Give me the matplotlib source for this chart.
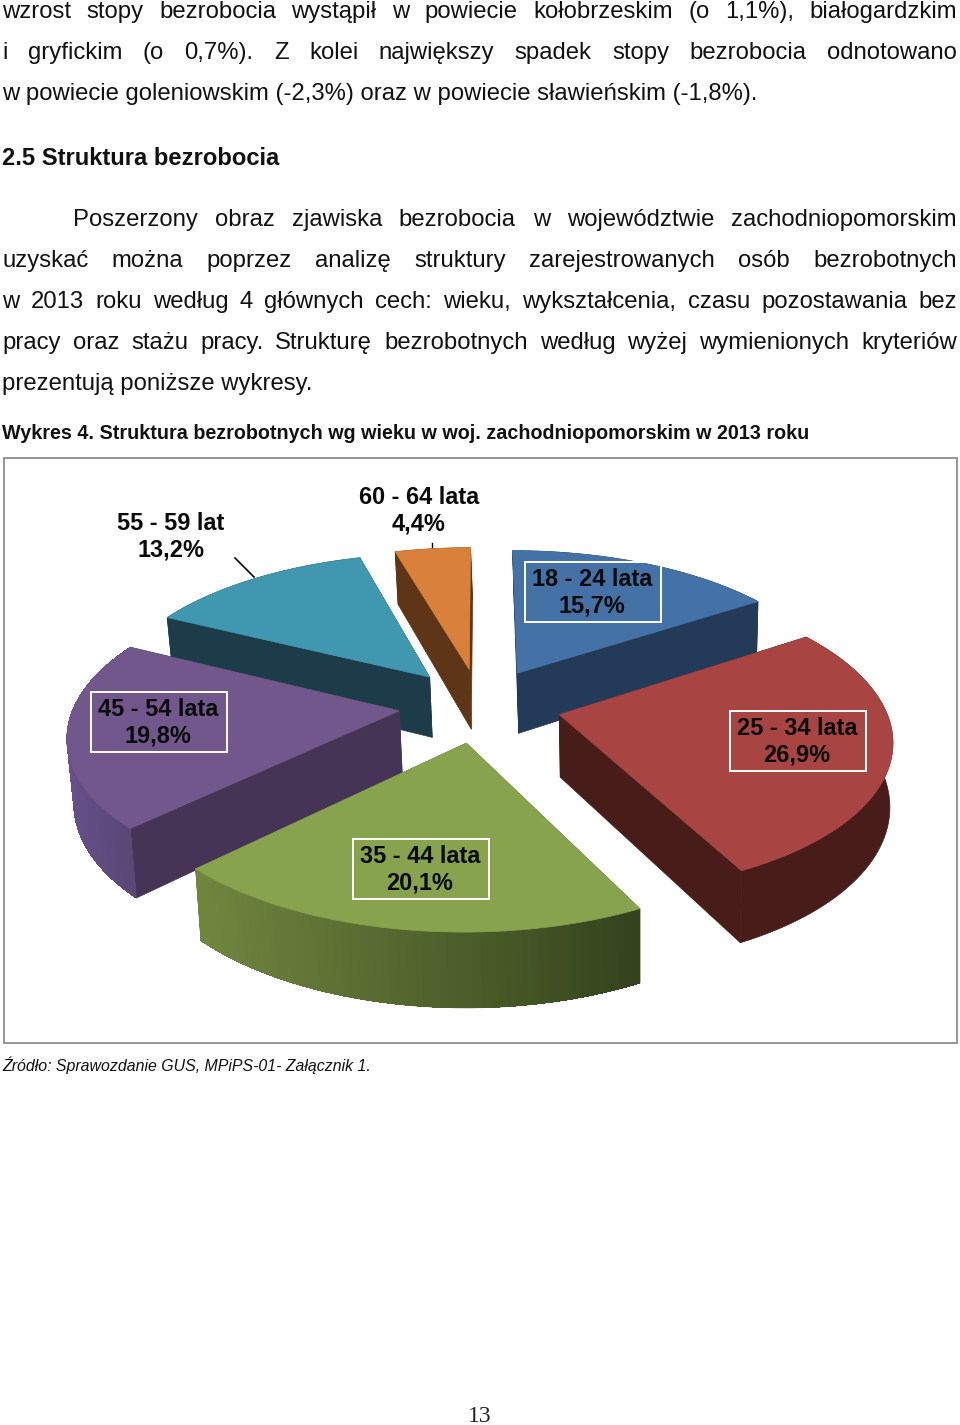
import numpy as np
import matplotlib
matplotlib.use("Agg")
import matplotlib.pyplot as plt
from matplotlib.patches import Polygon, Rectangle

plt.rcParams['font.family'] = ['Liberation Sans', 'DejaVu Sans']

# chart values, clockwise from 12 o'clock
groups = ["18 - 24 lata", "25 - 34 lata", "35 - 44 lata", "45 - 54 lata", "55 - 59 lat", "60 - 64 lata"]
shares = [15.7, 26.9, 20.1, 19.8, 13.2, 4.4]
top_colors = ["#4471a6", "#a84542", "#87a34e", "#71578c", "#3f97b0", "#d9803a"]
wall_colors = ["#233a58", "#481c18", "#4a5c2a", "#463456", "#1c3c4a", "#5e3517"]
rim_from = ["#233a58", "#481c18", "#71873f", "#65508a", "#1c3c4a", "#5e3517"]
rim_to = ["#233a58", "#481c18", "#34431d", "#5a4775", "#1c3c4a", "#5e3517"]
draw_order = [5, 4, 0, 3, 1, 2]

# label centre and optional white box, in image pixels
label_pos = [(592, 592), (797, 741), (420, 869), (158, 722), (171, 536), (419, 510)]
boxed = [True, True, True, True, False, False]

body_top = ["wzrost stopy bezrobocia wystąpił w powiecie kołobrzeskim (o 1,1%), białogardzkim",
            "i gryfickim (o 0,7%). Z kolei największy spadek stopy bezrobocia odnotowano"]
body_last = "w powiecie goleniowskim (-2,3%) oraz w powiecie sławieńskim (-1,8%)."
heading = "2.5 Struktura bezrobocia"
para = ["Poszerzony obraz zjawiska bezrobocia w województwie zachodniopomorskim",
        "uzyskać można poprzez analizę struktury zarejestrowanych osób bezrobotnych",
        "w 2013 roku według 4 głównych cech: wieku, wykształcenia, czasu pozostawania bez",
        "pracy oraz stażu pracy. Strukturę bezrobotnych według wyżej wymienionych kryteriów"]
para_last = "prezentują poniższe wykresy."
caption = "Wykres 4. Struktura bezrobotnych wg wieku w woj. zachodniopomorskim w 2013 roku"
source = "Źródło: Sprawozdanie GUS, MPiPS-01- Załącznik 1."

# pie projection, fitted by eye
CX, CY = 480, 705
SX, SY = 325, 149
PERSP = 0.146
EXPLODE = 0.25
DEPTH = 62


def project(u, v, low=False):
    w = 1 - PERSP*v
    x = CX + SX*u/w
    y = CY + SY*v/w
    if low:
        # the bottom face leans a little to the right
        x = x + (640-x)*0.012
        y = y + DEPTH/w
    return np.column_stack([x, y])


def blend(c1, c2, t):
    a = np.array(matplotlib.colors.to_rgb(c1))
    b = np.array(matplotlib.colors.to_rgb(c2))
    return a + (b-a)*t


fig = plt.figure(figsize=(9.6, 14.25), dpi=100)
ax = fig.add_axes((0, 0, 1, 1))
ax.set_xlim(0, 960)
ax.set_ylim(1425, 0)
ax.axis("off")

ax.add_patch(Rectangle((3.5, 457.5), 953, 585, fill=False, ec="#8c8c8c", lw=1.3))

edges = np.concatenate([[0], np.cumsum(shares)])/np.sum(shares)*2*np.pi

for i in draw_order:
    th = np.linspace(edges[i], edges[i+1], 60)
    mid = (edges[i]+edges[i+1])/2
    ou, ov = EXPLODE*np.sin(mid), -EXPLODE*np.cos(mid)
    u, v = ou + np.sin(th), ov - np.cos(th)
    apex_u, apex_v = np.array([ou]), np.array([ov])
    top = project(u, v)
    low = project(u, v, low=True)
    atop = project(apex_u, apex_v)
    alow = project(apex_u, apex_v, low=True)
    # the two straight walls
    for k in [0, -1]:
        pts = np.vstack([atop, top[k], low[k], alow])
        ax.add_patch(Polygon(pts, fc=wall_colors[i], ec=wall_colors[i], lw=0.5, zorder=2))
    # outer rim: one base shape, then short strips so the shade can run along it
    base = blend(rim_from[i], rim_to[i], 0.5)
    ax.add_patch(Polygon(np.vstack([top, low[::-1]]), fc=base, ec=base, lw=0.5, zorder=2))
    if rim_from[i] != rim_to[i]:
        for k in range(len(th)-1):
            t = (top[k, 0]-top[:, 0].min())/max(np.ptp(top[:, 0]), 1)
            c = blend(rim_from[i], rim_to[i], t)
            pts = np.vstack([top[k], top[k+1], low[k+1], low[k]])
            ax.add_patch(Polygon(pts, fc=c, ec="none", antialiased=False, zorder=2))
    ax.add_patch(Polygon(np.vstack([atop, top]), fc=top_colors[i], ec=top_colors[i], lw=0.5, zorder=2))

# leader lines
ax.plot([235, 254], [558, 577], color="k", lw=1.2, zorder=3)
ax.plot([432, 432], [543, 548], color="k", lw=1, zorder=1)

for name, share, pos, box in zip(groups, shares, label_pos, boxed):
    txt = name + "\n" + f"{share:.1f}".replace(".", ",") + "%"
    ax.text(pos[0], pos[1]+1, txt, ha="center", va="center", fontsize=16.9, fontweight="bold",
            linespacing=1.2, color="#0a0a0a", zorder=5)
    if box:
        ax.add_patch(Rectangle((pos[0]-67, pos[1]-30.5), 136, 60.5, fill=False, ec="white", lw=1.4, zorder=4))

renderer = fig.canvas.get_renderer()


def justified(line, y, x0=2, x1=957, **kw):
    words = line.split(" ")
    items = [ax.text(0, y, w, va="baseline", **kw) for w in words]
    widths = [t.get_window_extent(renderer).width for t in items]
    gap = (x1-x0-sum(widths))/(len(words)-1)
    x = x0
    for t, w in zip(items, widths):
        t.set_x(x)
        x += w + gap


BODY = dict(fontsize=17.2, color="#111111")
justified(body_top[0], 18, **BODY)
justified(body_top[1], 59, **BODY)
ax.text(2, 100, body_last, va="baseline", **BODY)
ax.text(2, 165, heading, va="baseline", fontsize=17.1, fontweight="bold", color="#111111")
justified(para[0], 226, x0=73, **BODY)
justified(para[1], 267, **BODY)
justified(para[2], 308, **BODY)
justified(para[3], 349, **BODY)
ax.text(2, 390, para_last, va="baseline", **BODY)
ax.text(2, 439, caption, va="baseline", fontsize=14.25, fontweight="bold", color="#111111")
ax.text(2, 1071, source, va="baseline", fontsize=11.45, fontstyle="italic", color="#111111")
ax.text(480, 1422, "13", ha="center", va="baseline", fontsize=17, family="Liberation Serif", color="#222222")

fig.savefig("out.png", dpi=100)
